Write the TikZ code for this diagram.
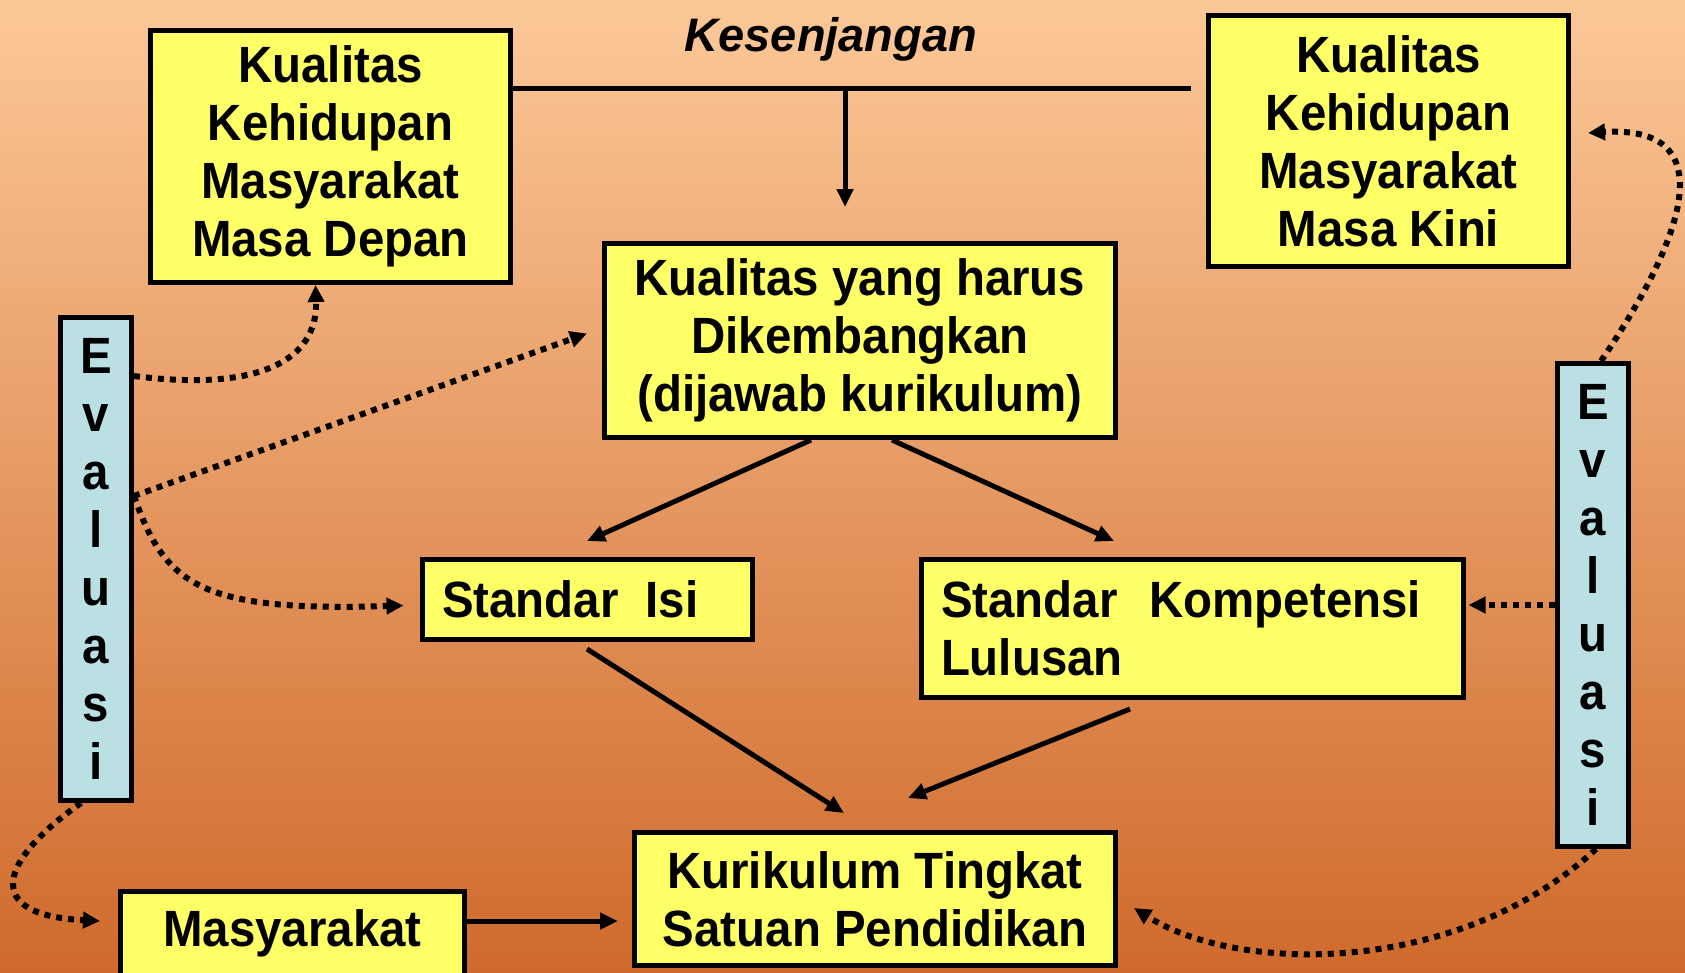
\documentclass[tikz,border=0pt]{standalone}
\usepackage{fontspec}
\setmainfont{Liberation Sans}[FakeStretch=0.93]
\newfontfamily\gapfont{Liberation Sans}
\usetikzlibrary{arrows.meta}
\definecolor{bgtop}{HTML}{FCC898}
\definecolor{bgbot}{HTML}{CF6A2C}
\definecolor{boxyellow}{HTML}{FFFF66}
\definecolor{evalblue}{HTML}{BBE0E4}

\begin{document}
\begin{tikzpicture}[x=1pt, y=-1pt, font=\bfseries\fontsize{51}{58}\selectfont,
                    main/.style = {draw, line width=5pt, fill=boxyellow, align=center, inner sep=0pt},
                    eval/.style = {draw, line width=5pt, fill=evalblue, align=center, inner sep=0pt, minimum width=71pt, minimum height=483pt},
                    arr/.style = {line width=5pt, -{Triangle[length=18pt,width=16pt]}},
                    dotarr/.style = {line width=6pt, dash pattern=on 6pt off 6pt, -{Triangle[length=17pt,width=16pt]}}]
                    \shade[top color=bgtop, bottom color=bgbot] (0,0) rectangle (1685,972);
                    \useasboundingbox (0,0) rectangle (1685,972);

                    \node[main, minimum width=360pt, minimum height=252pt] (1) at (330.5,156.5) {Kualitas\\Kehidupan\\Masyarakat\\Masa Depan};
                    \node[main, minimum width=360pt, minimum height=251pt] (2) at (1388.5,141) {Kualitas\\Kehidupan\\Masyarakat\\Masa Kini};
                    \node[main, minimum width=511pt, minimum height=194pt] (3) at (860,340.5) {Kualitas yang harus\\Dikembangkan\\(dijawab kurikulum)};
                    \node[main, align=left, text width=290pt, inner xsep=20pt, minimum height=80pt] (4) at (587,599.5) {Standar\hspace{27pt}Isi};
                    \node[main, align=left, text width=502pt, inner xsep=20pt, minimum height=138pt] (5) at (1192,628.5) {Standar\hspace{32pt}Kompetensi\\Lulusan};
                    \node[main, minimum width=481pt, minimum height=133pt] (6) at (875,899) {Kurikulum Tingkat\\Satuan Pendidikan};
                    \node[main, minimum width=344pt, minimum height=84pt] (7) at (292.5,933) {Masyarakat};
                    \node[eval] (8) at (96,559) {E\\v\\a\\l\\u\\a\\s\\i};
                    \node[eval] (9) at (1593,605) {E\\v\\a\\l\\u\\a\\s\\i};
                    \node (10) at (831,39) {\gapfont\itshape\fontsize{47}{56}\selectfont Kesenjangan};
                    \coordinate (g1) at (845,88);
                    \coordinate (g2) at (1191,88);
                    \coordinate (g3) at (845,207);

                    \draw[line width=5pt] ([yshift=68.5pt]1.east) -- (g2);
                    \draw[arr] (g1) -- (g3);
                    \draw[arr] ([xshift=-49pt]3.south) -- ([yshift=16pt]4.north);
                    \draw[arr] ([xshift=32pt]3.south) -- ([xshift=-78pt,yshift=16pt]5.north);
                    \draw[arr] ([yshift=-7pt]4.south) -- ([xshift=-31pt,yshift=17pt]6.north);
                    \draw[arr] ([xshift=-62pt,yshift=-9pt]5.south) -- ([xshift=33pt,yshift=32pt]6.north);
                    \draw[arr] ([yshift=12pt]7.east) -- ([xshift=-14pt,yshift=-22pt]6.west);

                    \draw[dotarr] ([yshift=-61pt]8.north east) .. controls (260,392) and (318,360) .. ([xshift=-15pt]1.south);
                    \draw[dotarr] ([yshift=-181pt]8.north east) -- ([xshift=-15pt,yshift=7pt]3.west);
                    \draw[dotarr] ([yshift=-181pt]8.north east) .. controls (165,585) and (200,612) .. ([xshift=-16pt,yshift=-6pt]4.west);
                    \draw[dotarr] ([xshift=-15pt]8.south) .. controls (0,860) and (-20,915) .. ([xshift=-18pt,yshift=12pt]7.west);
                    \draw[dotarr, shorten >=3pt] (9.west) -- (9.west -| 5.east);
                    \draw[dotarr] ([xshift=8pt]9.north) .. controls (1690,230) and (1720,125) .. ([xshift=17pt,yshift=8pt]2.east);
                    \draw[dotarr] ([xshift=3pt]9.south) .. controls (1460,975) and (1240,975) .. ([xshift=16pt,yshift=-9pt]6.east);
                \end{tikzpicture}
\end{document}
